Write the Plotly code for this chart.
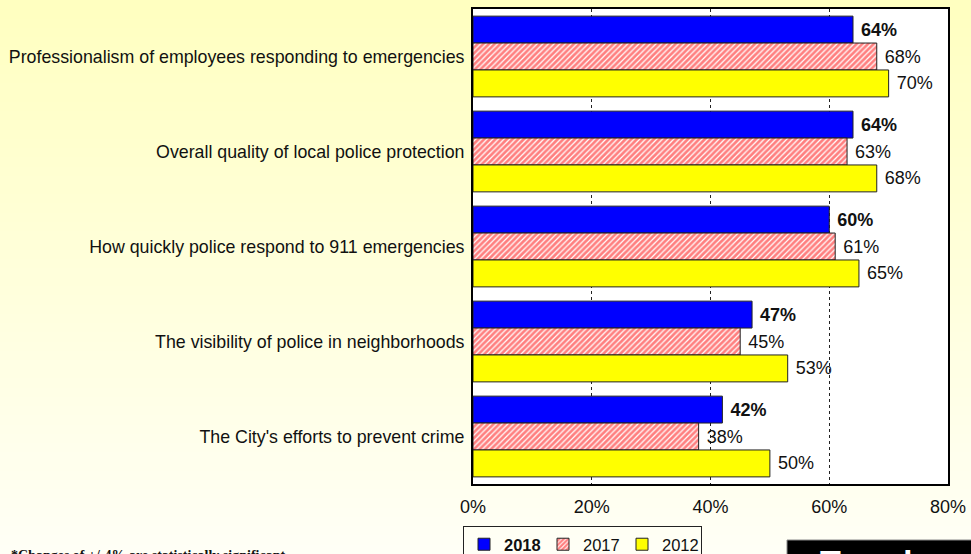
import plotly.graph_objects as go

categories = [
    "Professionalism of employees responding to emergencies",
    "Overall quality of local police protection",
    "How quickly police respond to 911 emergencies",
    "The visibility of police in neighborhoods",
    "The City's efforts to prevent crime",
]
values_2018 = [64, 64, 60, 47, 42]
values_2017 = [68, 63, 61, 45, 38]
values_2012 = [70, 68, 65, 53, 50]
x_tick_vals = [0, 20, 40, 60, 80]
x_tick_text = ["0%", "20%", "40%", "60%", "80%"]

W, H = 971, 554
PL, PR, PT, PB = 473, 948, 9, 484
PW, PH = PR - PL, PB - PT


def px_x(p):
    return (p - PL) / PW


def px_y(p):
    return (PB - p) / PH


line = dict(color="#222222", width=1)
lab_font = dict(family="Arial, Liberation Sans, sans-serif", size=18, color="#111111")

fig = go.Figure()
fig.add_trace(go.Bar(
    y=categories, x=values_2018, orientation="h", name="<b>2018</b>",
    marker=dict(color="#0000FF", line=line),
    text=[f"{v}%" for v in values_2018],
    texttemplate="\u00a0<b>%{text}</b>", textposition="outside", textfont=lab_font,
    cliponaxis=False,
))
fig.add_trace(go.Bar(
    y=categories, x=values_2017, orientation="h", name="2017",
    marker=dict(color="white", line=line,
                pattern=dict(shape="/", fgcolor="#FF0000", bgcolor="white", size=4, solidity=0.7)),
    text=[f"{v}%" for v in values_2017],
    texttemplate="\u00a0%{text}", textposition="outside", textfont=lab_font,
    cliponaxis=False,
))
fig.add_trace(go.Bar(
    y=categories, x=values_2012, orientation="h", name="2012",
    marker=dict(color="#FFFF00", line=line),
    text=[f"{v}%" for v in values_2012],
    texttemplate="\u00a0%{text}", textposition="outside", textfont=lab_font,
    cliponaxis=False,
))

shapes = []
# vertical gradient background
n = 60
top_c = (255, 255, 192)
bot_c = (255, 255, 246)
for i in range(n):
    t = (i + 0.5) / n
    c = tuple(int(round(top_c[k] + (bot_c[k] - top_c[k]) * t)) for k in range(3))
    y0p = i * H / n
    y1p = (i + 1) * H / n + 1
    shapes.append(dict(type="rect", xref="paper", yref="paper", layer="below",
                       x0=px_x(-5), x1=px_x(W + 5), y0=px_y(y0p), y1=px_y(y1p),
                       line=dict(width=0), fillcolor="rgb(%d,%d,%d)" % c))
# white plot area
shapes.append(dict(type="rect", xref="paper", yref="paper", layer="below",
                   x0=0, x1=1, y0=0, y1=1, line=dict(width=0), fillcolor="white"))
# black box bottom right
shapes.append(dict(type="rect", xref="paper", yref="paper", layer="above",
                   x0=px_x(787), x1=px_x(W + 5), y0=px_y(540), y1=px_y(H + 10),
                   line=dict(color="#888888", width=1), fillcolor="black"))

annotations = [
    dict(text="<b>*Changes of +/-4% are statistically significant</b>",
         xref="paper", yref="paper", x=px_x(9), y=px_y(546), xanchor="left", yanchor="top",
         showarrow=False, font=dict(family="Liberation Serif, Times New Roman, serif", size=14, color="#111111")),
    dict(text="<b>Trends</b>",
         xref="paper", yref="paper", x=px_x(818), y=px_y(541), xanchor="left", yanchor="top",
         showarrow=False, font=dict(family="Arial, Liberation Sans, sans-serif", size=34, color="white")),
]

fig.update_layout(
    width=W, height=H,
    margin=dict(l=PL, r=W - PR, t=PT, b=H - PB, autoexpand=False),
    paper_bgcolor="#FFFFE0",
    plot_bgcolor="rgba(0,0,0,0)",
    barmode="group", bargap=0.15, bargroupgap=0,
    showlegend=True,
    legend=dict(orientation="h", x=px_x(463), y=px_y(526), xanchor="left", yanchor="top",
                bgcolor="rgba(0,0,0,0)", bordercolor="#222222", borderwidth=1,
                font=dict(family="Arial, Liberation Sans, sans-serif", size=16.5, color="#111111"),
                traceorder="normal", itemwidth=30, tracegroupgap=0,
                entrywidth=34, entrywidthmode="pixels"),
    xaxis=dict(range=[0, 80], tickvals=x_tick_vals, ticktext=x_tick_text,
               showgrid=True, gridcolor="#222222", gridwidth=1, griddash="3px,3px",
               showline=True, linecolor="black", linewidth=2, mirror=True,
               ticks="", ticklabelstandoff=5, zeroline=False,
               tickfont=dict(family="Arial, Liberation Sans, sans-serif", size=18, color="#111111")),
    yaxis=dict(autorange="reversed", showline=True, linecolor="black", linewidth=2, mirror=True,
               ticks="", ticklabelstandoff=3, showgrid=False,
               tickfont=dict(family="Arial, Liberation Sans, sans-serif", size=17.8, color="#111111")),
    shapes=shapes,
    annotations=annotations,
    font=dict(family="Arial, Liberation Sans, sans-serif"),
)

fig.write_html(
    "out.html",
    config={"displayModeBar": False},
    post_script="document.body.style.margin='0';document.body.style.overflow='hidden';",
)
